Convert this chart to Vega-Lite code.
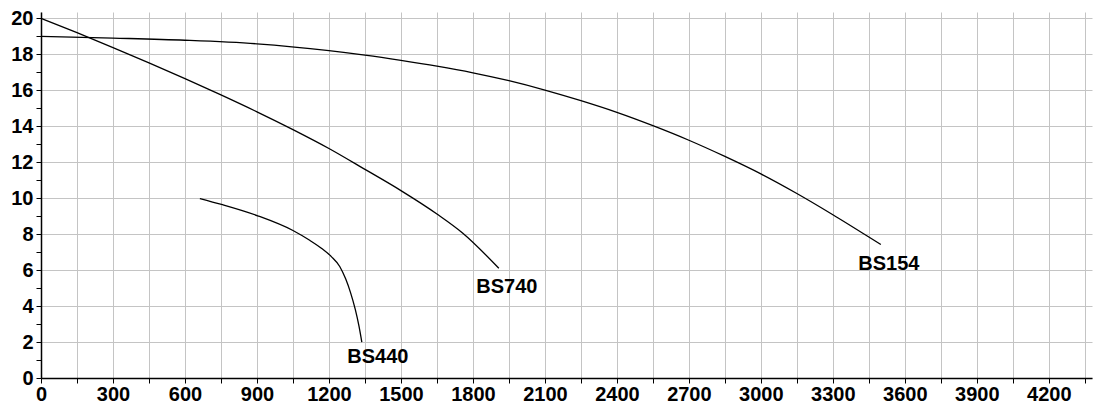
{
  "$schema": "https://vega.github.io/schema/vega-lite/v6.json",
  "width": 1051,
  "height": 366,
  "autosize": {"type": "none"},
  "padding": {"left": 41, "top": 12, "right": 10, "bottom": 27},
  "background": "white",
  "config": {
    "view": {"stroke": null},
    "font": "Liberation Sans",
    "axis": {
      "domainColor": "black",
      "domainWidth": 1.5,
      "tickColor": "black",
      "tickSize": 5,
      "tickWidth": 1,
      "gridColor": "#c4c4c4",
      "gridWidth": 1,
      "title": null
    }
  },
  "data": {
    "values": [
      {"series": "BS154", "q": 0, "h": 19.0},
      {"series": "BS154", "q": 300, "h": 18.9},
      {"series": "BS154", "q": 600, "h": 18.78},
      {"series": "BS154", "q": 900, "h": 18.58},
      {"series": "BS154", "q": 1200, "h": 18.2},
      {"series": "BS154", "q": 1350, "h": 17.95},
      {"series": "BS154", "q": 1500, "h": 17.66},
      {"series": "BS154", "q": 1650, "h": 17.34},
      {"series": "BS154", "q": 1800, "h": 16.97},
      {"series": "BS154", "q": 1950, "h": 16.53},
      {"series": "BS154", "q": 2100, "h": 16.01},
      {"series": "BS154", "q": 2250, "h": 15.42},
      {"series": "BS154", "q": 2400, "h": 14.77},
      {"series": "BS154", "q": 2550, "h": 14.03},
      {"series": "BS154", "q": 2700, "h": 13.22},
      {"series": "BS154", "q": 2850, "h": 12.32},
      {"series": "BS154", "q": 3000, "h": 11.35},
      {"series": "BS154", "q": 3150, "h": 10.26},
      {"series": "BS154", "q": 3300, "h": 9.08},
      {"series": "BS154", "q": 3450, "h": 7.84},
      {"series": "BS154", "q": 3500, "h": 7.42},
      {"series": "BS740", "q": 0, "h": 20.0},
      {"series": "BS740", "q": 150, "h": 19.2},
      {"series": "BS740", "q": 300, "h": 18.37},
      {"series": "BS740", "q": 450, "h": 17.52},
      {"series": "BS740", "q": 600, "h": 16.65},
      {"series": "BS740", "q": 750, "h": 15.74},
      {"series": "BS740", "q": 900, "h": 14.8},
      {"series": "BS740", "q": 1050, "h": 13.81},
      {"series": "BS740", "q": 1200, "h": 12.76},
      {"series": "BS740", "q": 1350, "h": 11.6},
      {"series": "BS740", "q": 1500, "h": 10.42},
      {"series": "BS740", "q": 1650, "h": 9.12},
      {"series": "BS740", "q": 1758, "h": 8.05},
      {"series": "BS740", "q": 1908, "h": 6.1},
      {"series": "BS440", "q": 662, "h": 9.98},
      {"series": "BS440", "q": 752, "h": 9.65},
      {"series": "BS440", "q": 903, "h": 9.02},
      {"series": "BS440", "q": 1050, "h": 8.2},
      {"series": "BS440", "q": 1118, "h": 7.67},
      {"series": "BS440", "q": 1170, "h": 7.2},
      {"series": "BS440", "q": 1210, "h": 6.75},
      {"series": "BS440", "q": 1245, "h": 6.2},
      {"series": "BS440", "q": 1270, "h": 5.5},
      {"series": "BS440", "q": 1290, "h": 4.75},
      {"series": "BS440", "q": 1310, "h": 3.8},
      {"series": "BS440", "q": 1325, "h": 2.9},
      {"series": "BS440", "q": 1337, "h": 2.0}
    ]
  },
  "encoding": {
    "x": {
      "field": "q",
      "type": "quantitative",
      "scale": {"domain": [0, 4380], "nice": false, "zero": true},
      "axis": {
        "values": [0,150,300,450,600,750,900,1050,1200,1350,1500,1650,1800,1950,2100,2250,2400,2550,2700,2850,3000,3150,3300,3450,3600,3750,3900,4050,4200,4350],
        "format": "d",
        "labelExpr": "datum.value % 300 == 0 ? datum.label : ''",
        "labelFont": "Liberation Sans",
        "labelFontWeight": "bold",
        "labelFontSize": 20,
        "labelColor": "black",
        "labelPadding": 1,
        "labelBaseline": "top",
        "labelFlush": false,
        "labelOverlap": false
      }
    },
    "y": {
      "field": "h",
      "type": "quantitative",
      "scale": {"domain": [0, 20.35], "nice": false},
      "axis": {
        "values": [0,1,2,3,4,5,6,7,8,9,10,11,12,13,14,15,16,17,18,19,20],
        "labelExpr": "datum.value % 2 == 0 ? datum.label : ''",
        "gridOpacity": {"condition": {"test": "datum.value % 2 == 1", "value": 0}, "value": 1},
        "labelFont": "Liberation Sans",
        "labelFontWeight": "bold",
        "labelFontSize": 20,
        "labelColor": "black",
        "labelPadding": 3,
        "labelFlush": false,
        "labelOverlap": false
      }
    }
  },
  "layer": [
    {
      "mark": {"type": "line", "color": "black", "strokeWidth": 1.3, "interpolate": "monotone"},
      "encoding": {"detail": {"field": "series"}, "order": {"field": "q"}}
    },
    {
      "transform": [
        {"joinaggregate": [{"op": "max", "field": "q", "as": "qmax"}], "groupby": ["series"]},
        {"filter": "datum.q == datum.qmax && datum.series != 'BS440'"}
      ],
      "mark": {"type": "text", "font": "Liberation Sans", "fontWeight": "bold", "fontSize": 20, "color": "black", "dx": 8, "dy": 19, "baseline": "middle", "align": "center"},
      "encoding": {"text": {"field": "series"}}
    },
    {
      "transform": [
        {"joinaggregate": [{"op": "max", "field": "q", "as": "qmax"}], "groupby": ["series"]},
        {"filter": "datum.q == datum.qmax && datum.series == 'BS440'"}
      ],
      "mark": {"type": "text", "font": "Liberation Sans", "fontWeight": "bold", "fontSize": 20, "color": "black", "dx": 16, "dy": 15, "baseline": "middle", "align": "center"},
      "encoding": {"text": {"field": "series"}}
    }
  ]
}
